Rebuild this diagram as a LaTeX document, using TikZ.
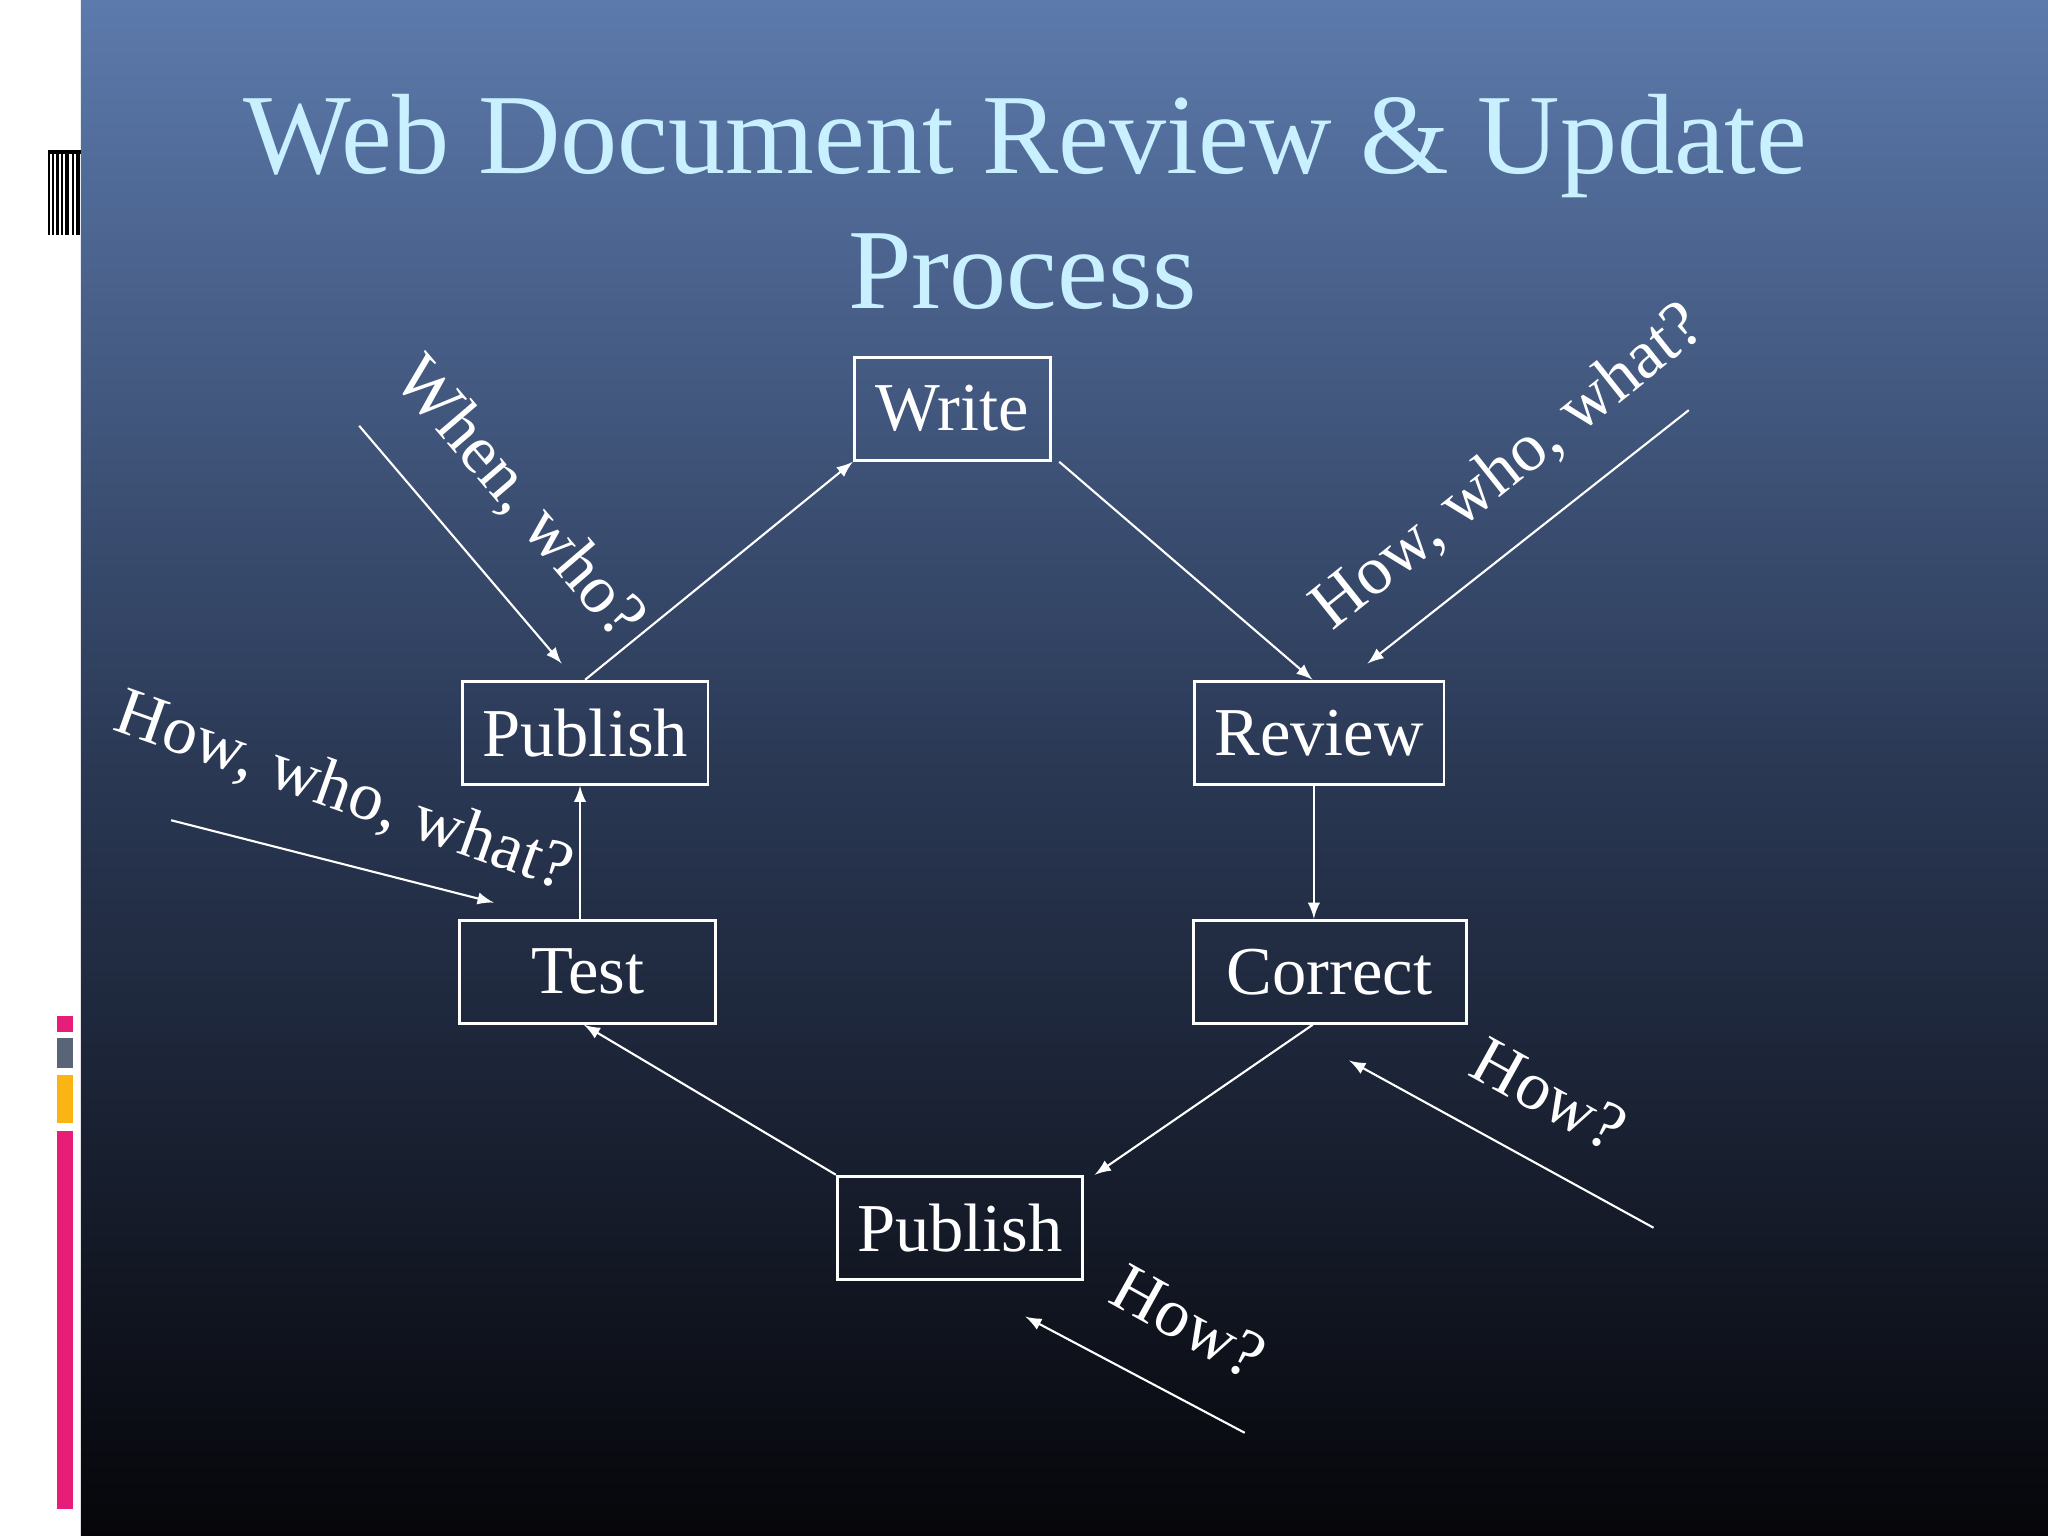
\documentclass[tikz,border=0pt]{standalone}
\usepackage{fontspec}
\setmainfont{Liberation Serif}
\definecolor{bgtop}{RGB}{92,122,172}
\definecolor{bgmid}{RGB}{42,56,84}
\definecolor{bgbot}{RGB}{6,6,10}
\definecolor{titlec}{RGB}{200,240,255}
\definecolor{dpink}{RGB}{230,30,120}
\definecolor{dgray}{RGB}{90,100,120}
\definecolor{dorange}{RGB}{250,180,20}
\begin{document}
\begin{tikzpicture}[x=0.013061cm,y=-0.013061cm,
  box/.style={draw=white,line width=0.8pt,text=white,font=\fontsize{19.5}{23}\selectfont,inner sep=0pt},
  conn/.style={draw=white,line width=0.6pt,-latex},
  lbl/.style={text=white,font=\fontsize{19.5}{23}\selectfont}]
\useasboundingbox (0,0) rectangle (1568,1176);
\fill[white] (0,0) rectangle (62,1176);
\shade[top color=bgtop,bottom color=bgbot,middle color=bgmid] (62,0) rectangle (1568,1176);
% left decorations
\foreach \x/\w in {37/1.5,40/1,43/2,47/1,50/3,55/2,58/3}{\fill[black] (\x,115) rectangle ++(\w,65);}
\fill[black] (37,115) rectangle (62,118);
\fill[dpink] (44,778) rectangle (56,790);
\fill[dgray] (44,795) rectangle (56,818);
\fill[dorange] (44,823) rectangle (56,860);
\fill[dpink] (44,866) rectangle (56,1155);
% title
\node[text=titlec,font=\fontsize{32.5}{38}\selectfont,anchor=base] (t1) at (785,133) {Web Document Review \& Update};
\node[text=titlec,font=\fontsize{32.5}{38}\selectfont,anchor=base] (t2) at (783,236) {Process};
% boxes
\node[box,minimum width=150*0.013061cm,minimum height=79*0.013061cm] (write) at (729,313) {Write};
\node[box,minimum width=188*0.013061cm,minimum height=79*0.013061cm] (pubT) at (448,561) {Publish};
\node[box,minimum width=191*0.013061cm,minimum height=79*0.013061cm] (review) at (1010,561) {Review};
\node[box,minimum width=196*0.013061cm,minimum height=79*0.013061cm] (test) at (450,744) {Test};
\node[box,minimum width=209*0.013061cm,minimum height=79*0.013061cm] (correct) at (1018,744) {Correct};
\node[box,minimum width=188*0.013061cm,minimum height=79*0.013061cm] (pubB) at (735,940) {Publish};
% cycle
\draw[conn] (pubT.north) -- (write.south west);
\draw[conn] ([xshift=2.2pt]write.south east) -- ([xshift=-1.9pt]review.north);
\draw[conn] ([xshift=-1.5pt]review.south) -- ([xshift=-1.5pt]review.south |- correct.north);
\draw[conn] ([xshift=-4.8pt]correct.south) -- ([xshift=3pt]pubB.north east);
\draw[conn] (pubB.north west) -- ([xshift=-1.1pt]test.south);
\draw[conn] ([xshift=-2.2pt]test.north) -- ([xshift=-2.2pt]test.north |- pubT.south);
% free arrows
\coordinate (a1) at (275,326); \coordinate (b1) at (430,508);
\coordinate (a2) at (131,628); \coordinate (b2) at (378,691);
\coordinate (a3) at (1293,314); \coordinate (b3) at (1047,508);
\coordinate (a4) at (1266,940); \coordinate (b4) at (1033,812);
\coordinate (a5) at (953,1097); \coordinate (b5) at (785,1008);
\foreach \i in {1,...,5}{\draw[conn] (a\i) -- (b\i);}
% labels
\node[lbl,rotate=-49.5] (l1) at (397,382) {When, who?};
\node[lbl,rotate=-19.6] (l2) at (263,607) {How, who, what?};
\node[lbl,rotate=38.5] (l3) at (1155,358) {How, who, what?};
\node[lbl,rotate=-29] (l4) at (1186,838) {How?};
\node[lbl,rotate=-29] (l5) at (910,1012) {How?};
\end{tikzpicture}
\end{document}
